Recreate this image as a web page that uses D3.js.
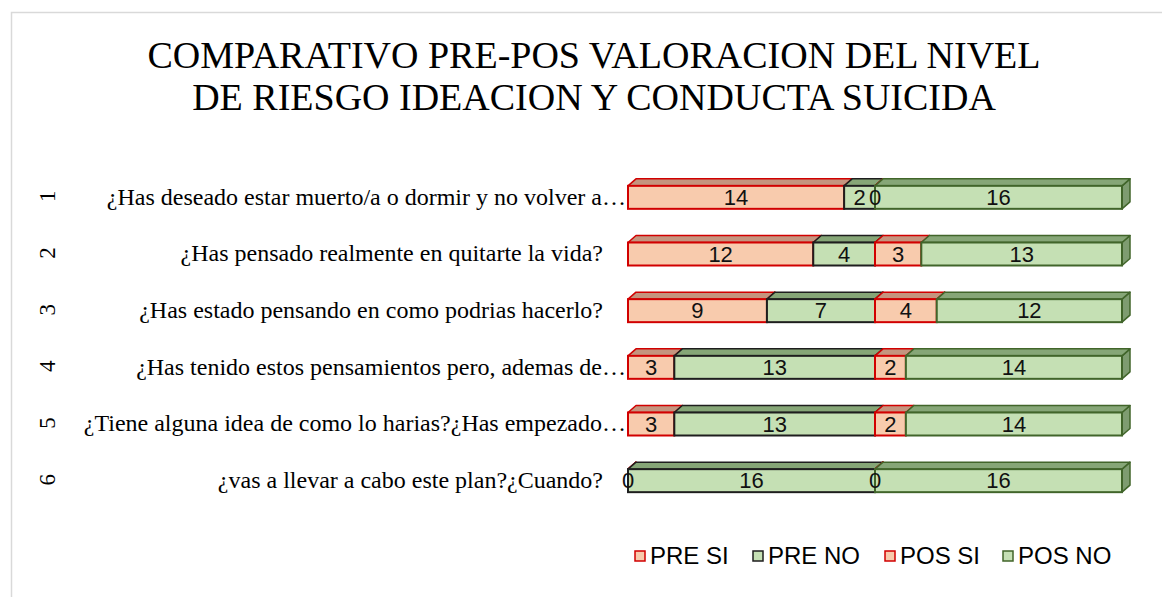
<!DOCTYPE html>
<html>
<head>
<meta charset="utf-8">
<script src="https://cdn.jsdelivr.net/npm/d3@7"></script>
<style>
  body { margin: 0; background: #fff; }
  svg { display: block; }
  .serif { font-family: "Liberation Serif", "Times New Roman", "DejaVu Serif", serif; }
  .sans { font-family: "Liberation Sans", Arial, sans-serif; }
</style>
</head>
<body>
<svg id="chart" width="1162" height="597"></svg>
<script>
// Data
const rowIds = ["1", "2", "3", "4", "5", "6"];
const questions = [
  "¿Has deseado estar muerto/a o dormir y no volver a…",
  "¿Has pensado realmente en quitarte la vida?",
  "¿Has estado pensando en como podrias hacerlo?",
  "¿Has tenido estos pensamientos pero, ademas de…",
  "¿Tiene alguna idea de como lo harias?¿Has empezado…",
  "¿vas a llevar a cabo este plan?¿Cuando?"
];
const seriesNames = ["PRE SI", "PRE NO", "POS SI", "POS NO"];
const preSi = [14, 12, 9, 3, 3, 0];
const preNo = [2, 4, 7, 13, 13, 16];
const posSi = [0, 3, 4, 2, 2, 0];
const posNo = [16, 13, 12, 14, 14, 16];
const titleLines = [
  "COMPARATIVO PRE-POS VALORACION DEL NIVEL",
  "DE RIESGO IDEACION Y CONDUCTA SUICIDA"
];

const svg = d3.select("#chart");

// colours per series: front fill, top, side, stroke
const styles = {
  "PRE SI": { fill: "#f8cbad", top: "#c4957f", side: "#c4957f", stroke: "#d10000" },
  "PRE NO": { fill: "#c5e0b4", top: "#86a677", side: "#7e9c70", stroke: "#1e1e1e" },
  "POS SI": { fill: "#f8cbad", top: "#c4957f", side: "#c4957f", stroke: "#d10000" },
  "POS NO": { fill: "#c5e0b4", top: "#86a677", side: "#7e9c70", stroke: "#41652a" }
};

// chart frame
svg.append("path")
  .attr("d", "M11.5,597 V12.5 H1162")
  .attr("fill", "none")
  .attr("stroke", "#d9d9d9")
  .attr("stroke-width", 1.5);

// title
svg.append("g").selectAll("text")
  .data(titleLines)
  .enter()
  .append("text")
  .attr("class", "serif")
  .attr("x", 594)
  .attr("y", (d, i) => 68 + i * 42)
  .attr("text-anchor", "middle")
  .attr("font-size", 38)
  .attr("fill", "#000")
  .text(d => d);

// table of rows
const rows = rowIds.map((id, i) => {
  const vals = [preSi[i], preNo[i], posSi[i], posNo[i]];
  return { id, question: questions[i], vals };
});

const total = d3.max(rows, r => d3.sum(r.vals));

const x = d3.scaleLinear()
  .domain([0, total])
  .range([628, 1122]);

const y = d3.scaleBand()
  .domain(rowIds)
  .range([168, 508]);

const barH = 23;
const dx = 8, dy = -7;

// row numbers (rotated)
svg.append("g").selectAll("text")
  .data(rows)
  .enter()
  .append("text")
  .attr("class", "serif")
  .attr("transform", d => `translate(47,${y(d.id) + y.bandwidth() / 2}) rotate(-90)`)
  .attr("text-anchor", "middle")
  .attr("dy", "0.35em")
  .attr("font-size", 23)
  .text(d => d.id);

// question labels
svg.append("g").selectAll("text")
  .data(rows)
  .enter()
  .append("text")
  .attr("class", "serif")
  .attr("x", d => d.question.endsWith("…") ? 626 : 603)
  .attr("y", d => y(d.id) + y.bandwidth() / 2)
  .attr("dy", "0.35em")
  .attr("text-anchor", "end")
  .attr("font-size", 24)
  .text(d => d.question);

// stacked 3D bars
const bars = svg.append("g");
rows.forEach(r => {
  const cy = y(r.id) + y.bandwidth() / 2;
  const top = cy - barH / 2 + 1;
  const bot = top + barH;
  let cum = 0;
  const segs = r.vals.map((v, k) => {
    const s = { name: seriesNames[k], v, x0: x(cum), x1: x(cum + v) };
    cum += v;
    return s;
  });

  segs.forEach(s => {
    const st = styles[s.name];
    const g = bars.append("g");
    // side face
    g.append("path")
      .attr("d", `M${s.x1},${top} L${s.x1 + dx},${top + dy} L${s.x1 + dx},${bot + dy} L${s.x1},${bot} Z`)
      .attr("fill", st.side)
      .attr("stroke", st.stroke)
      .attr("stroke-width", 1.5)
      .attr("stroke-linejoin", "round");
    // top face
    g.append("path")
      .attr("d", `M${s.x0},${top} L${s.x0 + dx},${top + dy} L${s.x1 + dx},${top + dy} L${s.x1},${top} Z`)
      .attr("fill", st.top)
      .attr("stroke", st.stroke)
      .attr("stroke-width", 1.5)
      .attr("stroke-linejoin", "round");
    // front face
    g.append("rect")
      .attr("x", s.x0)
      .attr("y", top)
      .attr("width", s.x1 - s.x0)
      .attr("height", barH)
      .attr("fill", st.fill)
      .attr("stroke", st.stroke)
      .attr("stroke-width", 2);
  });

  // data labels
  bars.append("g").selectAll("text")
    .data(segs)
    .enter()
    .append("text")
    .attr("class", "sans")
    .attr("x", s => (s.x0 + s.x1) / 2)
    .attr("y", cy + 1)
    .attr("dy", "0.35em")
    .attr("text-anchor", "middle")
    .attr("font-size", 22)
    .attr("fill", "#111")
    .text(s => s.v);
});

// legend
const legendX = [635, 753, 885, 1003];
const legend = svg.append("g").attr("transform", "translate(0,556)");
const items = legend.selectAll("g")
  .data(seriesNames)
  .enter()
  .append("g")
  .attr("transform", (d, i) => `translate(${legendX[i]},0)`);

items.append("rect")
  .attr("x", 0)
  .attr("y", -5)
  .attr("width", 10)
  .attr("height", 10)
  .attr("fill", d => styles[d].fill)
  .attr("stroke", d => styles[d].stroke)
  .attr("stroke-width", 1.5);

items.append("text")
  .attr("class", "sans")
  .attr("x", 15)
  .attr("y", 0)
  .attr("dy", "0.35em")
  .attr("font-size", 24)
  .text(d => d);
</script>
</body>
</html>
